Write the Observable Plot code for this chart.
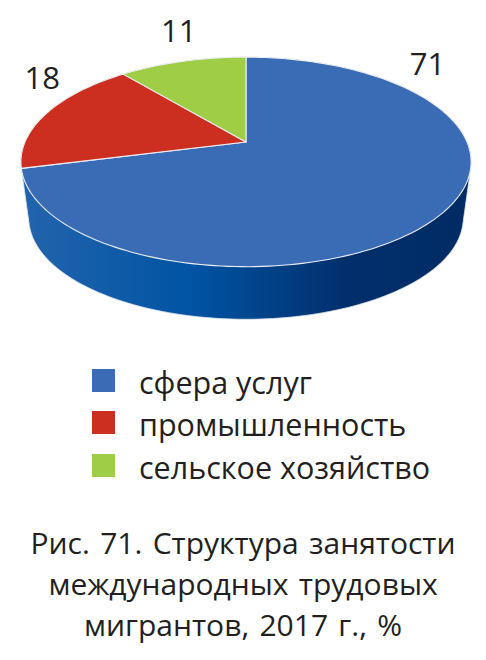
<!DOCTYPE html>
<html lang="ru">
<head>
<meta charset="utf-8">
<script src="https://cdn.jsdelivr.net/npm/d3@7"></script>
<script src="https://cdn.jsdelivr.net/npm/@observablehq/plot@0.6"></script>
<style>
  html, body { margin: 0; padding: 0; background: #fff; }
  body { position: relative; width: 486px; height: 660px; overflow: hidden; font-family: "Open Sans", sans-serif; color: #231f20; }
  #chart { position: absolute; left: 0; top: 0; }
  #chart svg { display: block; }
  #legend { position: absolute; left: 92px; top: 362px; }
  .row { position: absolute; left: 0; white-space: nowrap; font-size: 30.5px; line-height: 40px; }
  .sw { position: absolute; left: 0; top: 7px; width: 23px; height: 23px; }
  .lab { position: absolute; left: 47px; top: 0; }
  #caption { position: absolute; left: 0; width: 486px; top: 522px; text-align: center; font-size: 30px; line-height: 41px; word-spacing: 2.5px; }
</style>
</head>
<body>
<div id="chart"></div>
<div id="legend"></div>
<div id="caption">Рис. 71. Структура занятости<br>международных трудовых<br>мигрантов, 2017 г., %</div>
<script>
const categories = ["сфера услуг", "промышленность", "сельское хозяйство"];
const shares = [71, 18, 11];
const sliceColors = ["#3a6cb5", "#cc2e20", "#9fcd45"];

// Where each number sits around the disc: turn from 12 o'clock, radius in disc units
const labelTurns = [0.129, 0.846, 0.957];
const labelRadii = [1.33, 1.273, 1.444];

// Perspective of the tilted disc
const tilt = 0.19;
const baseShift = 0.564;
const baseScale = 0.965;

function project(turn, radius, base = false) {
  const a = turn * 2 * Math.PI;
  const X = radius * Math.sin(a);
  const Y = -radius * Math.cos(a);
  const w = 1 - tilt * Y;
  const s = base ? baseScale : 1;
  return { x: (s * X) / w, y: (s * Y) / w + (base ? baseShift : 0) };
}

const total = d3.sum(shares);
const cumulative = d3.cumsum(shares).map(v => v / total);
const step = 0.004;

const slices = categories.flatMap((name, i) => {
  const t0 = i ? cumulative[i - 1] : 0;
  const t1 = cumulative[i];
  const pts = [{ name, ...project(0, 0) }];
  const n = Math.ceil((t1 - t0) / step);
  for (let k = 0; k <= n; k++) pts.push({ name, ...project(t0 + ((t1 - t0) * k) / n, 1) });
  pts.push({ name, ...project(0, 0) });
  return pts;
});

const rim = d3.range(0, 1, step).flatMap(t => [project(t, 1), project(t, 1, true)]);
const hull = d3.polygonHull(rim.map(p => [p.x, p.y])).map(([x, y]) => ({ x, y }));
hull.push(hull[0]);

const labels = shares.map((v, i) => ({ v, ...project(labelTurns[i], labelRadii[i]) }));

const wallGradient = () => {
  const defs = d3.create("svg:defs");
  const g = defs.append("linearGradient").attr("id", "wall");
  [[0, "#2364ac"], [0.38, "#0054a4"], [0.72, "#022f6c"], [1, "#002b64"]].forEach(([o, c]) =>
    g.append("stop").attr("offset", o).attr("stop-color", c));
  return defs.node();
};

const chart = Plot.plot({
  width: 486,
  height: 340,
  margin: 0,
  x: { axis: null, domain: [-1, 1], range: [24.5, 466.5] },
  y: { axis: null, domain: [-1, 1], range: [40.5, 242.5] },
  color: { domain: categories, range: sliceColors },
  style: { background: "transparent" },
  marks: [
    wallGradient,
    Plot.line(hull, { x: "x", y: "y", fill: "url(#wall)", stroke: "#e4e6ea", strokeWidth: 0.8 }),
    Plot.line(slices, { x: "x", y: "y", z: "name", fill: "name", stroke: "#eceef2", strokeWidth: 1.1, curve: "linear" }),
    Plot.text(labels, { x: "x", y: "y", dy: 1.5, text: d => String(d.v), fontSize: 31, fontFamily: "Open Sans", fill: "#231f20" })
  ]
});
document.getElementById("chart").append(chart);

const legend = d3.select("#legend");
categories.forEach((name, i) => {
  const row = legend.append("div").attr("class", "row").style("top", `${[0, 42, 85][i]}px`);
  row.append("div").attr("class", "sw").style("background", sliceColors[i]);
  row.append("div").attr("class", "lab").text(name);
});
</script>
</body>
</html>
